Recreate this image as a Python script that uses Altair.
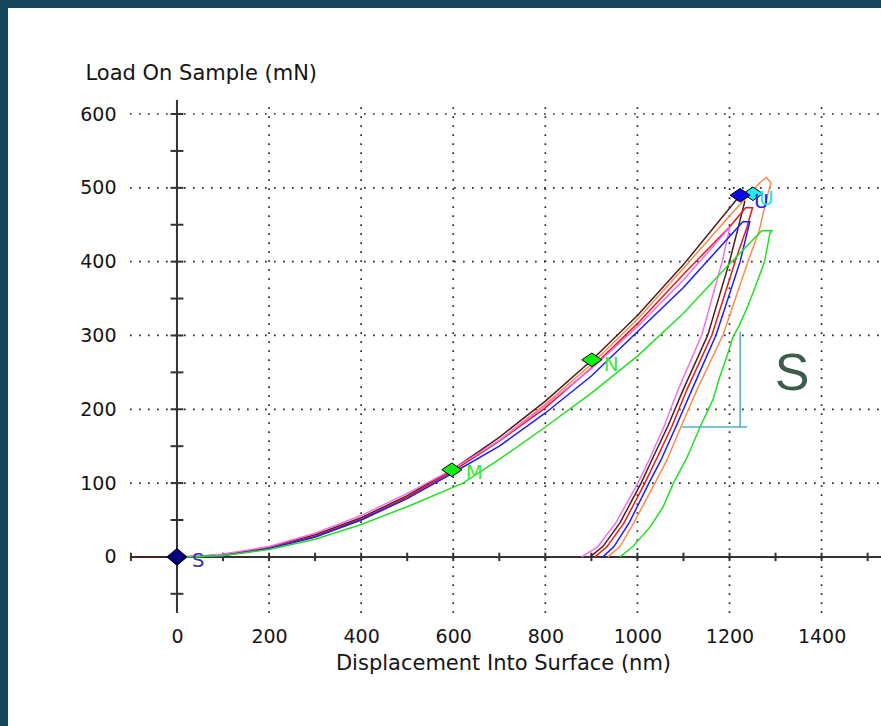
import altair as alt
import pandas as pd

# ---------------- indentation test curves: displacement (nm) / load (mN) ----------------
brown_h = [-100, 0, 50, 100, 200, 300, 400, 500, 600, 700, 800, 900, 1000, 1100, 1223,
           1233, 1200, 1153, 1099, 1066, 1031, 1008, 962, 925, 897]
brown_p = [0, 0, 1, 3, 13, 30, 53, 83, 119, 162, 211, 266, 327, 396, 490,
           481, 400, 301, 226, 177, 131, 100, 46, 14, 0]

orange_h = [0, 50, 100, 200, 300, 400, 500, 600, 700, 800, 900, 1000, 1100, 1200, 1266, 1280, 1290,
            1278, 1265, 1240, 1186, 1129, 1095, 1064, 1038, 992, 962, 936]
orange_p = [0, 0.5, 2, 11, 27, 50, 80, 116, 158, 207, 261, 322, 391, 462, 507, 514, 507,
            479, 443, 400, 301, 226, 177, 131, 100, 46, 14, 0]

red_h = [0, 50, 100, 200, 300, 400, 500, 600, 700, 800, 900, 1000, 1100, 1200, 1235, 1250,
         1238, 1212, 1162, 1107, 1075, 1040, 1016, 971, 934, 908]
red_p = [0, 1, 3, 12, 28, 51, 81, 117, 157, 202, 256, 316, 383, 447, 473, 473,
         447, 400, 301, 226, 177, 131, 100, 46, 14, 0]

magenta_h = [0, 50, 100, 200, 300, 400, 500, 600, 700, 800, 900, 1000, 1100, 1201,
             1184, 1140, 1088, 1058, 1025, 1001, 953, 914, 879]
magenta_p = [0, 1, 4, 14, 32, 56, 86, 119, 158, 205, 255, 312, 375, 447,
             400, 301, 226, 177, 131, 100, 46, 14, 0]

blue_h = [0, 50, 100, 200, 300, 400, 500, 600, 700, 800, 900, 1000, 1100, 1229, 1244,
          1223, 1171, 1118, 1084, 1051, 1025, 982, 949, 925]
blue_p = [0, 0.5, 2, 11, 27, 50, 79, 114, 150, 195, 245, 305, 365, 454, 454,
          400, 301, 226, 177, 131, 100, 46, 14, 0]

green_h = [0, 50, 100, 200, 300, 400, 500, 621, 700, 800, 900, 1000, 1100, 1194, 1270, 1292,
           1288, 1276, 1259, 1240, 1222, 1207, 1194, 1179, 1164, 1136, 1108, 1078, 1056, 1028, 990, 962]
green_p = [0, 0.5, 2, 10, 24, 44, 68, 100, 132, 176, 222, 272, 330, 393, 442, 442,
           439, 400, 371, 340, 315, 297, 271, 244, 213, 176, 135, 100, 68, 41, 14, 0]

curve_names = ["brown", "orange", "red", "magenta", "blue", "green"]
curve_colors = ["#4e1c1c", "#ff8a4c", "#f01818", "#f070f0", "#1c1cff", "#22e022"]
curve_points = [(brown_h, brown_p), (orange_h, orange_p), (red_h, red_p),
                (magenta_h, magenta_p), (blue_h, blue_p), (green_h, green_p)]

# ---------------- markers and labels ----------------
mark_h = [0, 597, 901, 1251, 1223]
mark_p = [0, 118, 267, 492, 490]
mark_fill = ["#00007a", "#11ee11", "#11ee11", "#22e8f0", "#0a0ae8"]
mark_shape = ["M-1,0L0,-0.85L1,0L0,0.85Z"] + ["M-1,0L0,-0.68L1,0L0,0.68Z"] * 4

label_text = ["S", "M", "N", "U", "U"]
label_h = [32, 627, 927, 1253, 1264]
label_p = [-5, 114, 260, 481, 485]
label_color = ["#3535b0", "#3ee83e", "#3ee83e", "#2222ee", "#22e0f0"]

# stiffness triangle on the unloading branch
stiff_h = [1223, 1097]
stiff_h2 = [1223, 1238]
stiff_p = [305, 176]
stiff_p2 = [176, 176]

# ---------------- axes ----------------
x_label_vals = [0, 200, 400, 600, 800, 1000, 1200, 1400]
y_label_vals = [0, 100, 200, 300, 400, 500, 600]
x_grid_vals = [200, 400, 600, 800, 1000, 1200, 1400]
y_grid_vals = [100, 200, 300, 400, 500, 600]
x_tick_vals = [-100, 0, 100, 200, 300, 400, 500, 600, 700, 800, 900, 1000, 1100, 1200, 1300, 1400, 1500]
y_tick_vals = [-50, 0, 50, 100, 150, 200, 250, 300, 350, 400, 450, 500, 550, 600]

X_MIN, X_MAX = -102, 1529
Y_MIN, Y_MAX = -76, 619
W, H = 751, 513
FONT = "DejaVu Sans"
INK = "#141414"

xs = alt.Scale(domain=[X_MIN, X_MAX], nice=False, zero=False)
ys = alt.Scale(domain=[Y_MIN, Y_MAX], nice=False, zero=False)

x_axis = alt.Axis(values=x_label_vals, format="d", grid=False, domain=False, ticks=False,
                  labelPadding=23, labelBaseline="middle", labelFont=FONT, labelFontSize=19,
                  labelColor=INK,
                  title="Displacement Into Surface (nm)", titleFont=FONT, titleFontSize=21,
                  titleFontWeight="normal", titleColor=INK, titleX=373, titleY=50,
                  titleAlign="center", titleBaseline="middle")
y_axis = alt.Axis(values=y_label_vals, format="d", grid=False, domain=False, ticks=False,
                  labelPadding=14, labelFont=FONT, labelFontSize=19, labelColor=INK,
                  title="Load On Sample (mN)", titleFont=FONT, titleFontSize=21,
                  titleFontWeight="normal", titleColor=INK, titleAngle=0, titleX=-45, titleY=-27,
                  titleAlign="left", titleBaseline="middle")


def X(field):
    # every layer shares the same x scale and axis definition
    return alt.X(field, scale=xs, axis=x_axis)


def Y(field):
    return alt.Y(field, scale=ys, axis=y_axis)


# ---------------- tables ----------------
rows = []
for name, (hs, ps) in zip(curve_names, curve_points):
    for i, (h, p) in enumerate(zip(hs, ps)):
        rows.append({"curve": name, "seq": i, "h": h, "P": p})
curves_df = pd.DataFrame(rows)

hgrid_df = pd.DataFrame({"P": y_grid_vals, "h": X_MIN, "h2": X_MAX})
vgrid_df = pd.DataFrame({"h": x_grid_vals, "P": Y_MIN, "P2": Y_MAX})
axis_lines_df = pd.DataFrame({"h": [0, X_MIN], "h2": [0, X_MAX], "P": [Y_MIN, 0], "P2": [Y_MAX, 0]})
xticks_df = pd.DataFrame({"h": x_tick_vals, "P": -5.7, "P2": 5.7})
yticks_df = pd.DataFrame({"P": y_tick_vals, "h": -14, "h2": 14})
marks_df = pd.DataFrame({"h": mark_h, "P": mark_p, "fill": mark_fill, "shape": mark_shape})
labels_df = pd.DataFrame({"h": label_h, "P": label_p, "text": label_text, "color": label_color})
stiff_df = pd.DataFrame({"h": stiff_h, "h2": stiff_h2, "P": stiff_p, "P2": stiff_p2})
bigS_df = pd.DataFrame({"h": [1336], "P": [248], "text": ["S"]})
one_df = pd.DataFrame({"k": [0]})

# ---------------- layers ----------------
frame_top = alt.Chart(one_df).mark_rect(color="#14465c").encode(
    x=alt.value(-130), x2=alt.value(W), y=alt.value(-100), y2=alt.value(-92))
frame_left = alt.Chart(one_df).mark_rect(color="#14465c").encode(
    x=alt.value(-130), x2=alt.value(-122), y=alt.value(-100), y2=alt.value(H + 113))

dots = dict(color="#2a2a2a", strokeWidth=1.7, strokeDash=[1.7, 7.3])
hgrid = alt.Chart(hgrid_df).mark_rule(**dots).encode(x=X("h:Q"), x2="h2:Q", y=Y("P:Q"))
vgrid = alt.Chart(vgrid_df).mark_rule(**dots).encode(x=X("h:Q"), y=Y("P:Q"), y2="P2:Q")

solid = dict(color="#333333", strokeWidth=2)
axis_lines = alt.Chart(axis_lines_df).mark_rule(**solid).encode(
    x=X("h:Q"), x2="h2:Q", y=Y("P:Q"), y2="P2:Q")
xticks = alt.Chart(xticks_df).mark_rule(**solid).encode(x=X("h:Q"), y=Y("P:Q"), y2="P2:Q")
yticks = alt.Chart(yticks_df).mark_rule(**solid).encode(x=X("h:Q"), x2="h2:Q", y=Y("P:Q"))

lines = alt.Chart(curves_df).mark_line(strokeWidth=1.5).encode(
    x=X("h:Q"), y=Y("P:Q"),
    color=alt.Color("curve:N", scale=alt.Scale(domain=curve_names, range=curve_colors), legend=None),
    order="seq:Q")

stiff = alt.Chart(stiff_df).mark_rule(color="#4cb0c0", strokeWidth=1.5).encode(
    x=X("h:Q"), x2="h2:Q", y=Y("P:Q"), y2="P2:Q")

points = alt.Chart(marks_df).mark_point(size=400, filled=True, opacity=1,
                                       stroke="#000000", strokeWidth=1).encode(
    x=X("h:Q"), y=Y("P:Q"),
    fill=alt.Fill("fill:N", scale=None),
    shape=alt.Shape("shape:N", scale=None))

labels = alt.Chart(labels_df).mark_text(font=FONT, fontSize=20, align="left", baseline="middle").encode(
    x=X("h:Q"), y=Y("P:Q"), text="text:N", color=alt.Color("color:N", scale=None))

big_s = alt.Chart(bigS_df).mark_text(font="Liberation Sans", fontSize=52, color="#3d5c4d",
                                     align="center", baseline="middle").encode(
    x=X("h:Q"), y=Y("P:Q"), text="text:N")

chart = alt.layer(
    hgrid, vgrid, axis_lines, xticks, yticks, lines, stiff, points, labels, big_s,
    frame_top, frame_left
).properties(
    width=W, height=H,
    autosize=alt.AutoSizeParams(type="none"),
    padding={"left": 130, "top": 100, "right": 0, "bottom": 113},
    background="white",
).configure_view(stroke=None)

chart.save("out.html", embed_options={"renderer": "svg", "actions": False})
